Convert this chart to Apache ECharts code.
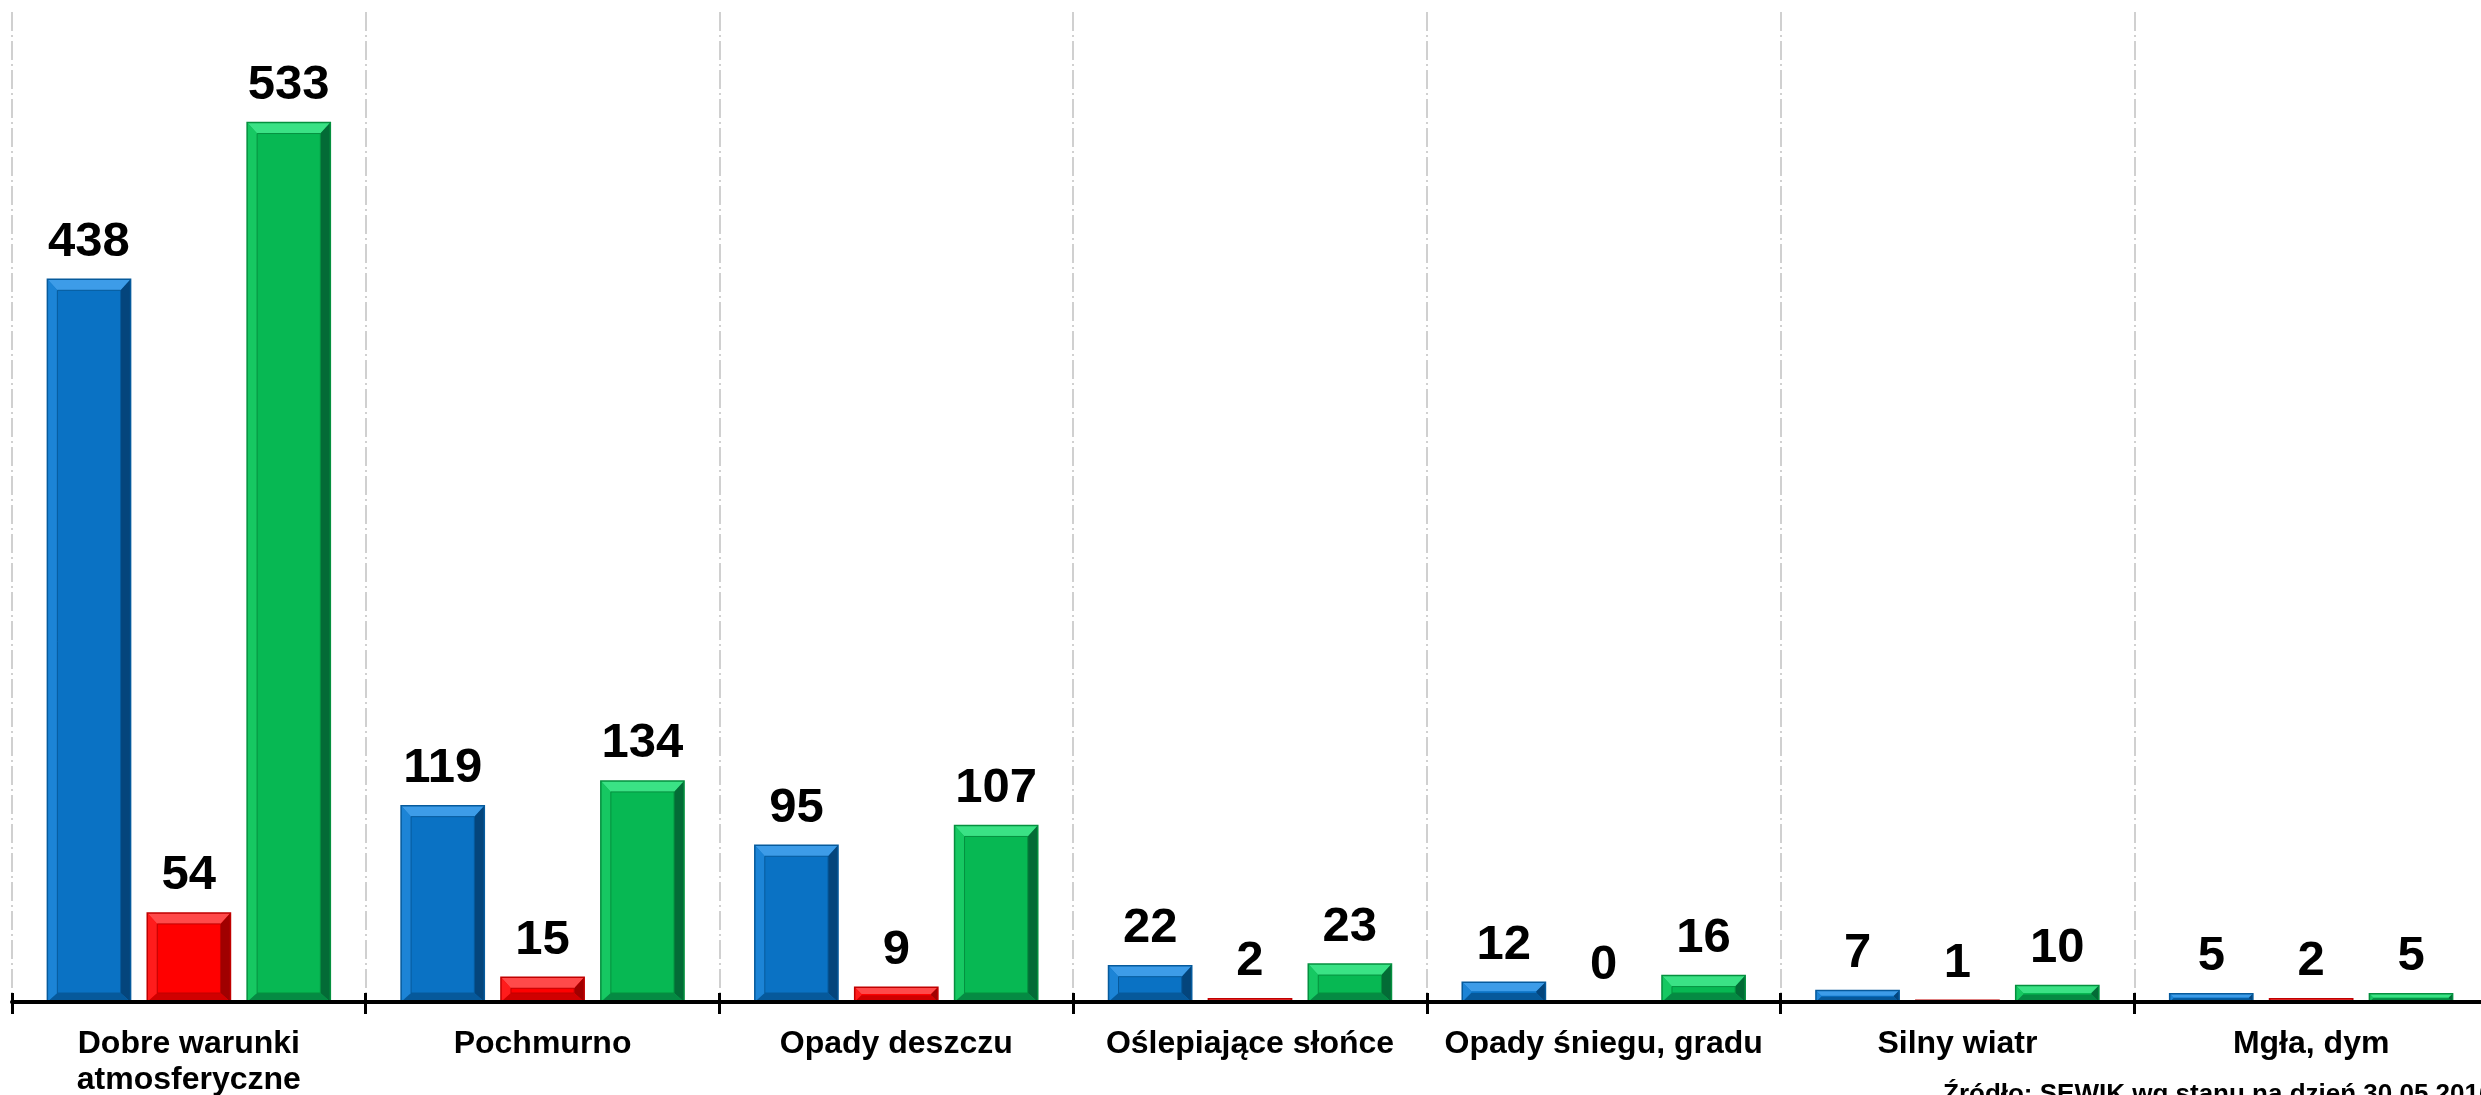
<!DOCTYPE html>
<html>
<head>
<meta charset="utf-8">
<script src="https://cdn.jsdelivr.net/npm/echarts@6/dist/echarts.min.js"></script>
<style>
html,body{margin:0;padding:0;background:#fff;}
#chart{width:2481px;height:1095px;}
</style>
</head>
<body>
<div id="chart"></div>
<script>
const categories = ["Dobre warunki\natmosferyczne", "Pochmurno", "Opady deszczu", "Oślepiające słońce", "Opady śniegu, gradu", "Silny wiatr", "Mgła, dym"];
const seriesBlue = [438, 119, 95, 22, 12, 7, 5];
const seriesRed = [54, 15, 9, 2, 0, 1, 2];
const seriesGreen = [533, 134, 107, 23, 16, 10, 5];
const yMax = 600;
const sourceText = "Źródło: SEWIK wg stanu na dzień 30.05.2016";

const FONT = "'Liberation Sans', Arial, sans-serif";

const palettes = [
  {base:'#0a72c4', top:'#3d9ce8', left:'#1c84d6', right:'#04457c', bottom:'#06599b', line:'#065a9c'},
  {base:'#ff0000', top:'#ff4a4a', left:'#ff1c1c', right:'#a00000', bottom:'#d00000', line:'#c00000'},
  {base:'#07b853', top:'#3ae285', left:'#16c862', right:'#036b36', bottom:'#058a43', line:'#05903f'}
];

function makeRender(s){
  const pal = palettes[s];
  return function(params, api){
    const xi = api.value(0), v = api.value(1);
    const p0 = api.coord([xi, 0]);
    const p1 = api.coord([xi, v]);
    const band = api.size([1, 0])[0];
    const usable = band * 0.8;
    const bw = usable / 3.4;
    const cx = p0[0] - usable / 2 + bw / 2 + s * bw * 1.2;
    const x0 = cx - bw / 2, x1 = cx + bw / 2;
    const yb = p0[1], yt = p1[1];
    const h = yb - yt;
    const children = [];
    if (h > 0.5) {
      const bx = Math.min(10, h / 2.2);
      const byT = Math.min(11, h / 2.2);
      const byB = Math.min(9, h / 2.2);
      children.push({type:'rect', shape:{x:x0, y:yt, width:bw, height:h}, style:{fill:pal.base}});
      children.push({type:'polygon', shape:{points:[[x0,yt],[x1,yt],[x1-bx,yt+byT],[x0+bx,yt+byT]]}, style:{fill:pal.top}});
      children.push({type:'polygon', shape:{points:[[x0,yt],[x0+bx,yt+byT],[x0+bx,yb-byB],[x0,yb]]}, style:{fill:pal.left}});
      children.push({type:'polygon', shape:{points:[[x1,yt],[x1-bx,yt+byT],[x1-bx,yb-byB],[x1,yb]]}, style:{fill:pal.right}});
      children.push({type:'polygon', shape:{points:[[x0,yb],[x0+bx,yb-byB],[x1-bx,yb-byB],[x1,yb]]}, style:{fill:pal.bottom}});
      if (h > 20) {
        children.push({type:'rect', shape:{x:x0+bx, y:yt+byT, width:bw-2*bx, height:h-byT-byB}, style:{fill:'none', stroke:pal.line, lineWidth:1}});
      }
      children.push({type:'rect', shape:{x:x0, y:yt, width:bw, height:h}, style:{fill:'none', stroke:pal.line, lineWidth:1.5}});
    }
    children.push({type:'text', style:{text:String(v), x:cx, y:yt - 37, align:'center', verticalAlign:'middle', font:'bold 49px ' + FONT, fill:'#000'}});
    return {type:'group', children:children};
  };
}

function mk(data, s){
  return {
    type:'custom',
    xAxisIndex:0, yAxisIndex:0,
    renderItem: makeRender(s),
    encode:{x:0, y:1},
    data: data.map((v,i)=>[i, v]),
    clip:false,
    z: 3
  };
}

const chart = echarts.init(document.getElementById('chart'), null, {renderer:'canvas'});
chart.setOption({
  backgroundColor:'#ffffff',
  animation:false,
  grid:{left:12, right:-7, top:12, bottom:93, containLabel:false, outerBoundsMode:'none'},
  xAxis:[
    {
      type:'category', data:categories, boundaryGap:true, position:'bottom',
      axisLine:{show:true, lineStyle:{color:'#000', width:4}},
      axisTick:{show:true, alignWithLabel:false, length:12, lineStyle:{color:'#000', width:3}},
      axisLabel:{show:true, interval:0, margin:24, fontFamily:FONT, fontWeight:'bold', fontSize:32, lineHeight:36, color:'#000'},
      splitLine:{show:true, interval:0, lineStyle:{color:'#d0d0d0', width:2, type:[19,4,2,4]}},
      z:5
    },
    {
      type:'category', data:categories, boundaryGap:true, position:'bottom',
      axisLine:{show:false},
      axisTick:{show:true, inside:true, length:9, lineStyle:{color:'#000', width:3}},
      axisLabel:{show:false},
      splitLine:{show:false},
      z:5
    }
  ],
  yAxis:{type:'value', min:0, max:yMax, show:false, splitLine:{show:false}},
  series:[mk(seriesBlue,0), mk(seriesRed,1), mk(seriesGreen,2)],
  graphic:[
    {type:'text', left:1943, top:1082, style:{text:sourceText, font:'bold 26px ' + FONT, fill:'#000'}}
  ]
});
</script>
</body>
</html>
